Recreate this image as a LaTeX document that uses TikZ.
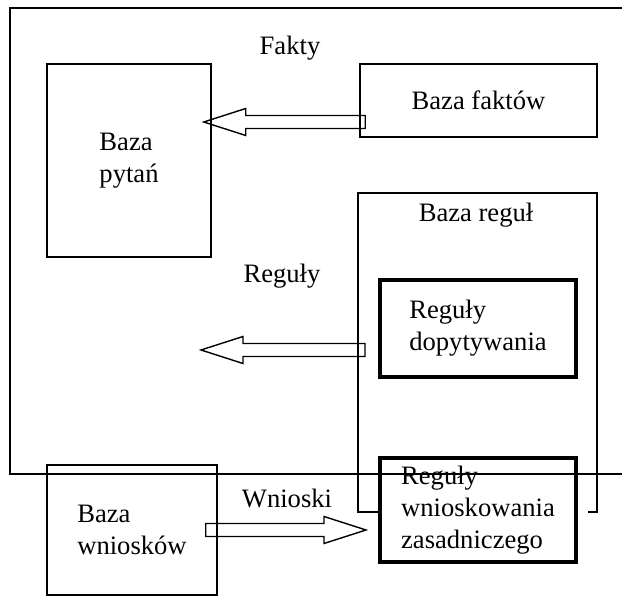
\documentclass[tikz,border=0pt]{standalone}
\usepackage{fontspec}
\setmainfont{Liberation Serif}
\usetikzlibrary{calc}
\newcommand{\hollowarrow}[2]{%
  \draw[line width=0.7pt]
    ($(#1)+(0,-6.5)$) -- ($(#2)!21pt!(#1)+(0,-6.5)$) -- ($(#2)!21pt!(#1)+(0,-13.5)$)
    -- (#2) -- ($(#2)!21pt!(#1)+(0,13.5)$) -- ($(#2)!21pt!(#1)+(0,6.5)$)
    -- ($(#1)+(0,6.5)$) -- cycle;}
\begin{document}
\begin{tikzpicture}[x=0.5pt,y=-0.5pt,
  every node/.style={font=\fontsize{13.3}{16}\selectfont},
  box/.style={draw,line width=0.75pt,align=left,inner sep=0pt},
  heavybox/.style={draw,line width=2pt,align=left,inner sep=0pt}]
\useasboundingbox (0,0) rectangle (622,597);
% outer frame, open to the right
\draw[line width=0.75pt] (622,8) -- (10,8) -- (10,474) -- (622,474);
\node[box, minimum width=82pt, minimum height=96.5pt] (pytan) at (129,160.5) {Baza\\pytań};
\node[box, minimum width=118.5pt, minimum height=36.5pt] (faktow) at (478.5,100.5) {Baza faktów};
% rule base
\draw[line width=0.75pt] (380,512) -- (358,512) -- (358,193) -- (597,193) -- (597,512) -- (588,512);
\node (regul) at (476,215) {Baza reguł};
\node[heavybox, minimum width=98pt, minimum height=48.5pt] (dopyt) at (478,328.5) {Reguły\\dopytywania};
\node[heavybox, minimum width=98pt, minimum height=52pt] (zasad) at (478,510) {Reguły\\wnioskowania\\zasadniczego};
\node[box, minimum width=85pt, minimum height=65pt] (wnioskow) at (132,530) {Baza\\wniosków};
\node (fakty) at (290,48) {Fakty};
\node (reguly) at (282,276) {Reguły};
\node (wnioski) at (287,498) {Wnioski};
% arrows
\coordinate[xshift=3pt,yshift=-10.75pt] (f1) at (faktow.west);
\coordinate[xshift=-4pt] (f2) at (pytan.east |- f1);
\coordinate (r1) at (365,350);
\coordinate (r2) at (201,350);
\coordinate[xshift=-6pt] (w1) at (wnioskow.east);
\coordinate[xshift=-6pt] (w2) at (zasad.west |- w1);
\hollowarrow{f1}{f2}
\hollowarrow{r1}{r2}
\hollowarrow{w1}{w2}
\end{tikzpicture}
\end{document}
